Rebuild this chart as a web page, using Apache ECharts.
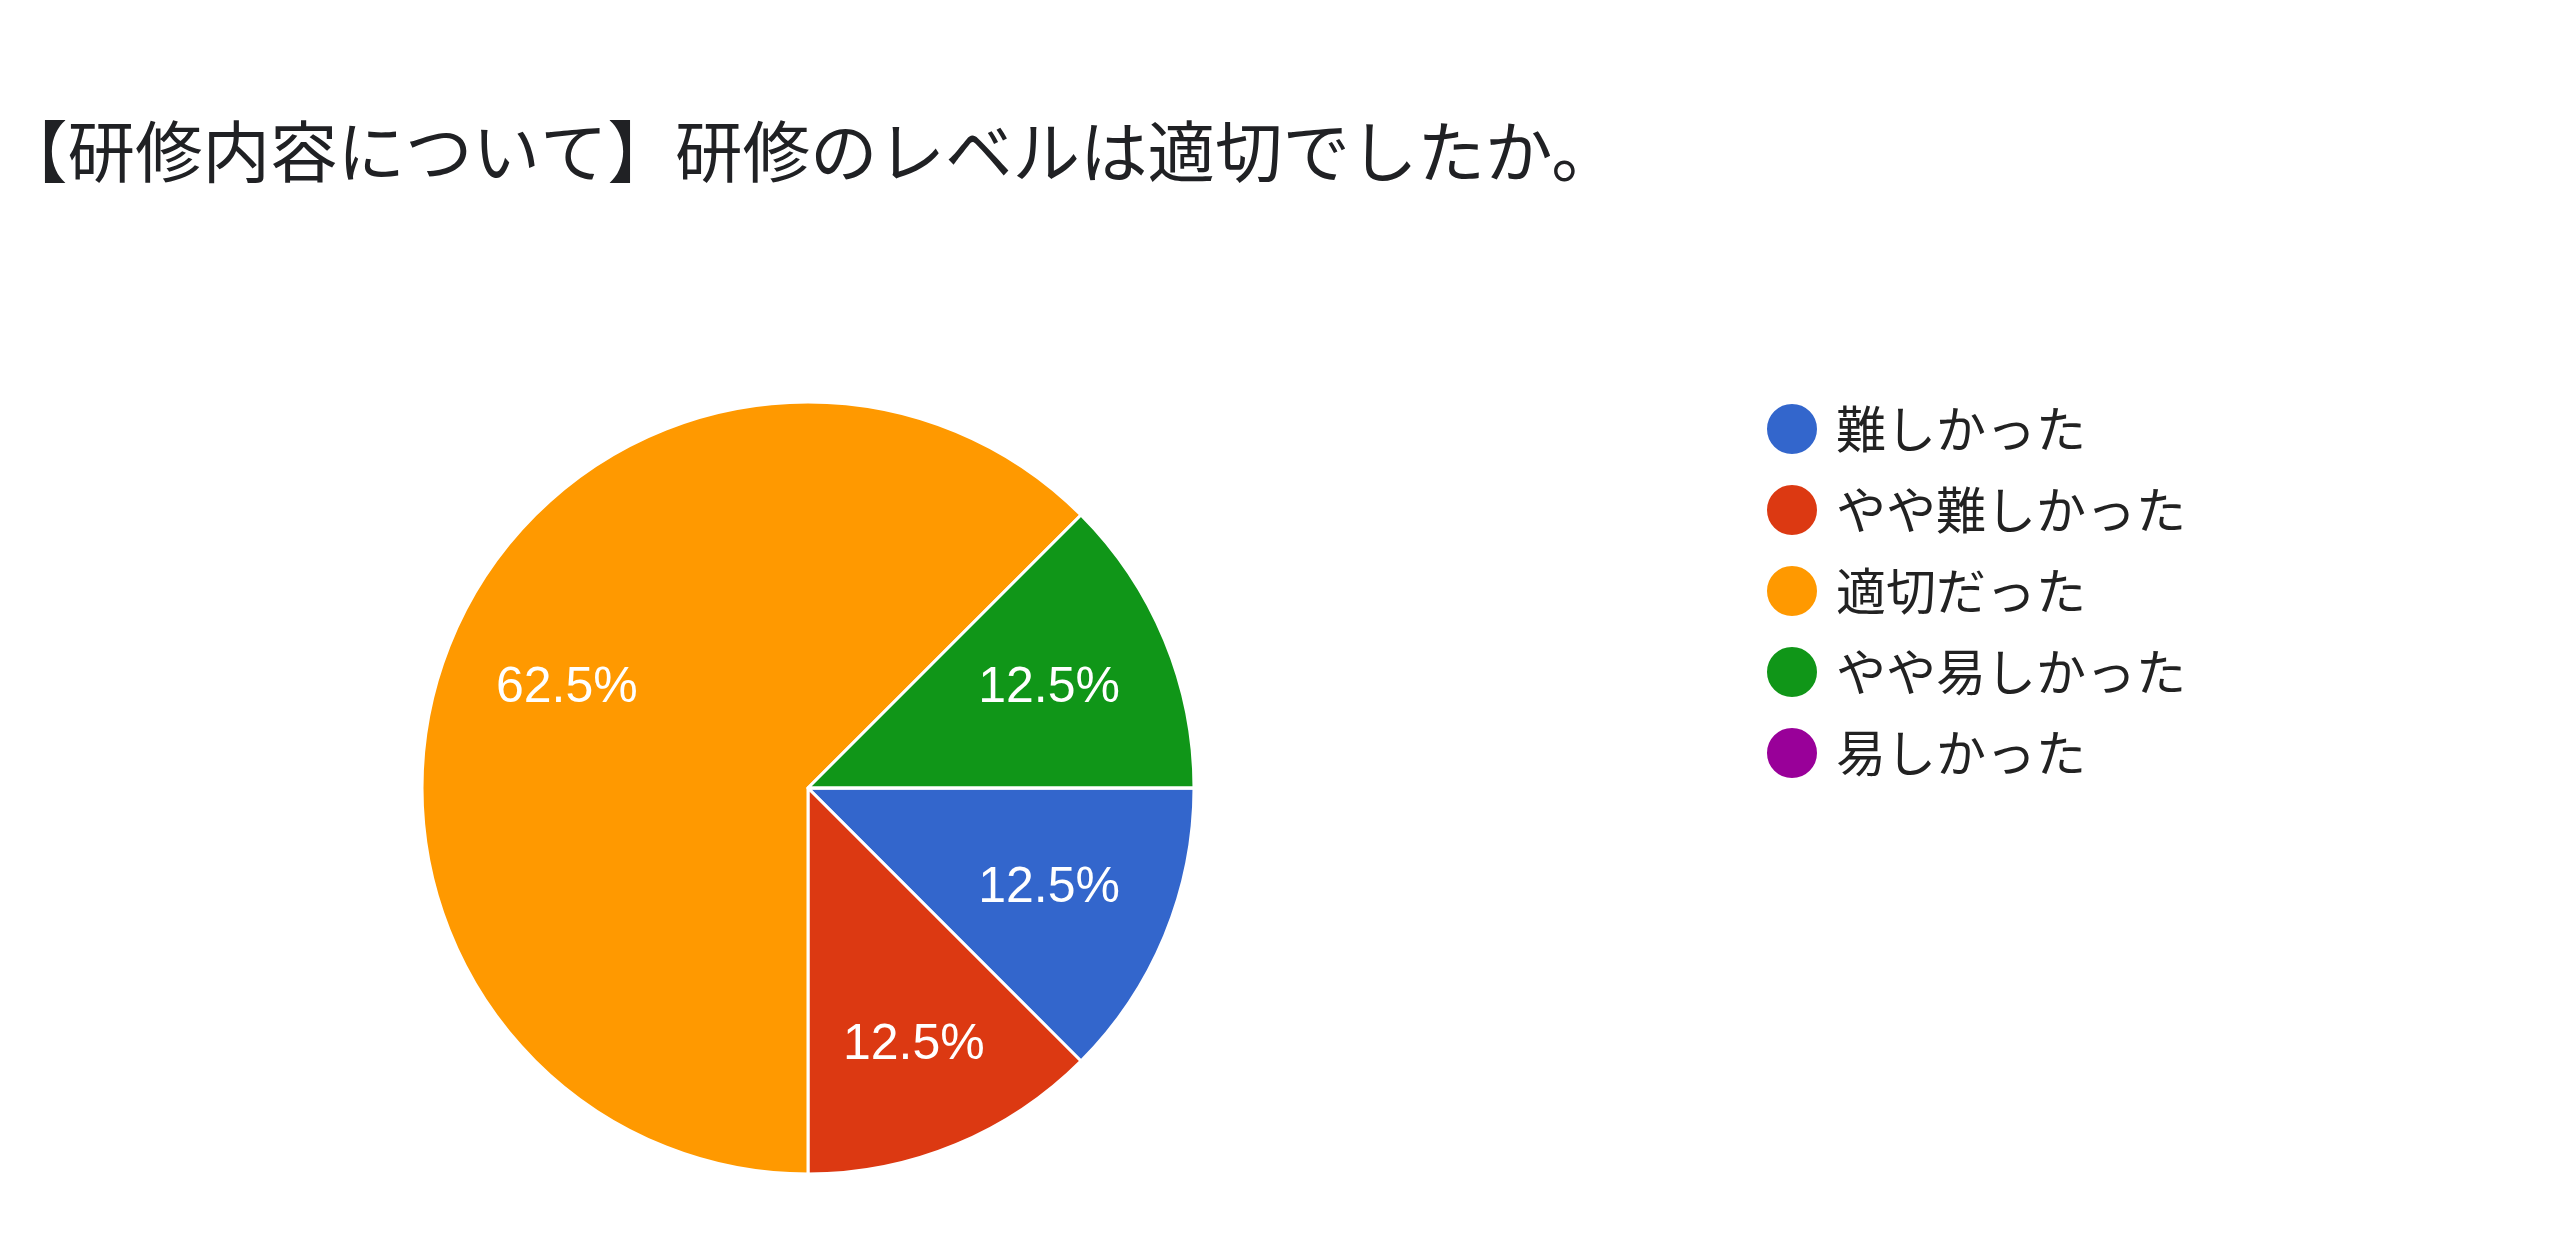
<!DOCTYPE html>
<html lang="ja">
<head>
  <meta charset="UTF-8">
  <title>研修のレベル</title>
  <script src="https://cdn.jsdelivr.net/npm/echarts@6/dist/echarts.min.js"></script>
  <style>
    html, body { margin: 0; padding: 0; background: #fff; }
  </style>
</head>
<body>
  <div id="main" style="width: 2560px;height:1256px;"></div>

  <script type="text/javascript">
    // answers and counts (8 responses)
    let categories = ['難しかった', 'やや難しかった', '適切だった', 'やや易しかった', '易しかった'];
    let counts = [1, 1, 5, 1, 0];
    let colors = ['#3366cc', '#dc3912', '#ff9900', '#109618', '#990099'];

    let total = counts.reduce((a, b) => a + b, 0);
    let pieData = categories.map((name, i) => ({ name: name, value: counts[i] }));

    let myChart = echarts.init(document.getElementById('main'));

    let options = {
      color: colors,
      title: {
        text: '【研修内容について】研修のレベルは適切でしたか。',
        left: 0,
        top: 118,
        padding: 0,
        textStyle: {
          fontFamily: '"Noto Sans CJK JP", sans-serif',
          fontSize: 67.5,
          fontWeight: 'normal',
          color: '#202124'
        }
      },
      legend: {
        orient: 'vertical',
        left: 1760,
        top: 397,
        icon: 'circle',
        itemWidth: 52,
        itemHeight: 52,
        itemGap: 27,
        data: categories,
        textStyle: {
          fontFamily: '"Noto Sans CJK JP", sans-serif',
          fontSize: 50,
          color: '#222222',
          padding: [0, 0, 0, 13]
        }
      },
      series: [
        {
          type: 'pie',
          center: [808, 788],
          radius: [0, 386],
          startAngle: 0,
          clockwise: true,
          silent: true,
          data: pieData,
          itemStyle: { borderColor: '#ffffff', borderWidth: 3 },
          label: { show: false },
          labelLine: { show: false }
        },
        {
          // transparent ring only used to place the percentage labels
          type: 'pie',
          center: [808, 788],
          radius: [130, 386],
          startAngle: 0,
          clockwise: true,
          silent: true,
          legendHoverLink: false,
          data: pieData,
          itemStyle: { color: 'rgba(0,0,0,0)', borderWidth: 0 },
          label: {
            show: true,
            position: 'inside',
            color: '#ffffff',
            fontFamily: '"Liberation Sans", Arial, sans-serif',
            fontSize: 50,
            formatter: (p) => p.value > 0 ? (p.value / total * 100).toFixed(1) + '%' : ''
          },
          // the label of the lower slice sits a little further out
          labelLayout: (p) => p.dataIndex === 1 ? { dx: 6, dy: 16 } : {},
          labelLine: { show: false }
        }
      ]
    };

    myChart.setOption(options);
  </script>
</body>
</html>
